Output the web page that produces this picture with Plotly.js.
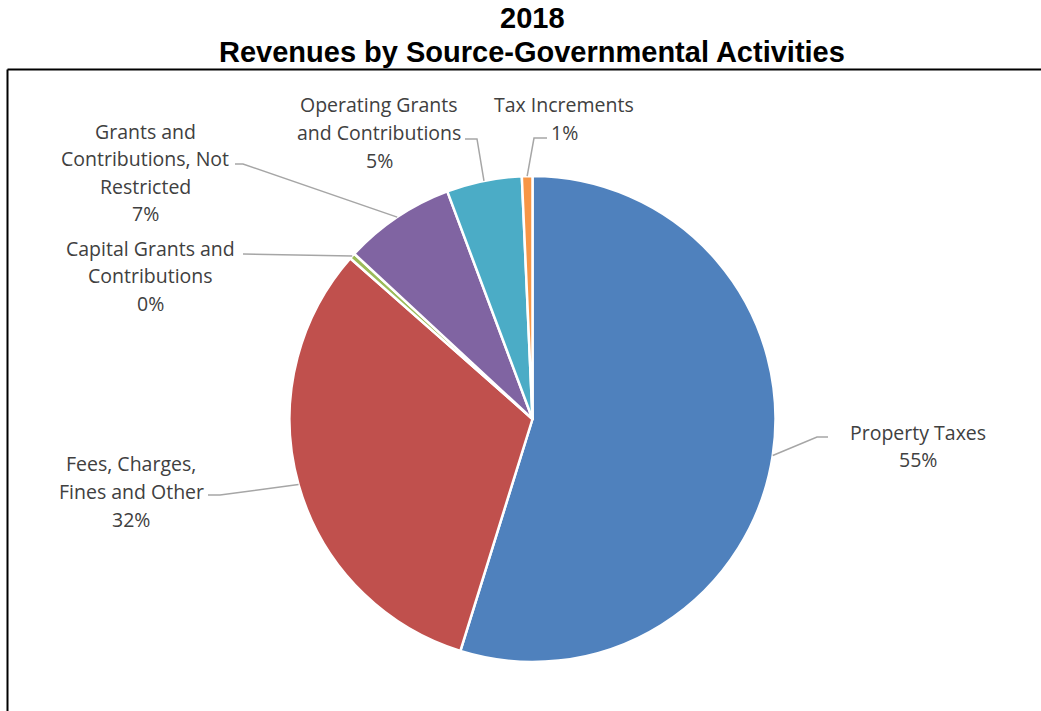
<!DOCTYPE html>
<html>
<head>
<meta charset="utf-8">
<script src="https://cdn.plot.ly/plotly-3.0.1.min.js"></script>
<style>html,body{margin:0;padding:0;background:#fff;}#chart{width:1041px;height:711px;}</style>
</head>
<body>
<div id="chart"></div>
<script>
// ---- data ----
const categories = ['Property Taxes', 'Fees, Charges, Fines and Other', 'Capital Grants and Contributions',
  'Grants and Contributions, Not Restricted', 'Operating Grants and Contributions', 'Tax Increments'];
const values = [54.8, 31.7, 0.4, 7.4, 5.0, 0.7];
const colors = ['#4F81BD', '#C0504D', '#9BBB59', '#8064A2', '#4BACC6', '#F79646'];
const titleLines = ['2018', 'Revenues by Source-Governmental Activities'];
const labelLines = [
  ['Property Taxes'],
  ['Fees, Charges,', 'Fines and Other'],
  ['Capital Grants and', 'Contributions'],
  ['Grants and', 'Contributions, Not', 'Restricted'],
  ['Operating Grants', 'and Contributions'],
  ['Tax Increments']
];

// ---- layout geometry (pixels) ----
const W = 1041, H = 711;
const cx = 532.5, cy = 419, R = 243;
const px = x => x / W;
const py = y => 1 - y / H;
const lineGap = 27.5;
// label block: center x, first line center y
const labelPos = [[918, 432], [131, 464], [150, 248], [145, 131], [379, 105], [564, 105]];
// leader line points after the slice-edge start point
const leaderPts = [
  [[817, 437], [828, 437]],
  [[220, 495], [208, 495]],
  [[243, 254]],
  [[243, 164], [235, 164]],
  [[477, 139], [465, 139]],
  [[534, 138], [547, 138]]
];
const titleY = [18, 52];

const total = values.reduce((a, b) => a + b, 0);
const annotations = [];
const shapes = [];
let cum = 0;
values.forEach((v, i) => {
  const a = (cum + v / 2) / total * 2 * Math.PI;
  cum += v;
  const sx = cx + R * Math.sin(a), sy = cy - R * Math.cos(a);
  let path = 'M ' + px(sx) + ',' + py(sy);
  leaderPts[i].forEach(p => { path += ' L ' + px(p[0]) + ',' + py(p[1]); });
  shapes.push({type: 'path', xref: 'paper', yref: 'paper', path: path,
    line: {color: '#A6A6A6', width: 1.5}});
  const lines = labelLines[i].concat([Math.round(v / total * 100) + '%']);
  lines.forEach((t, k) => {
    annotations.push({
      text: t, xref: 'paper', yref: 'paper', showarrow: false,
      x: px(labelPos[i][0]), y: py(labelPos[i][1] + k * lineGap),
      xanchor: 'center', yanchor: 'middle',
      font: {family: 'Open Sans, sans-serif', size: 19.5, color: '#404040'}
    });
  });
});

titleLines.forEach((t, k) => {
  annotations.push({
    text: '<b>' + t + '</b>', xref: 'paper', yref: 'paper', showarrow: false,
    x: px(532), y: py(titleY[k]), xanchor: 'center', yanchor: 'middle',
    font: {family: 'Liberation Sans, Arial, sans-serif', size: 29, color: '#000'}
  });
});

// frame
shapes.push({type: 'line', xref: 'paper', yref: 'paper', x0: px(7.5), x1: px(7.5), y0: 0, y1: py(69.5),
  line: {color: '#000', width: 2}});
shapes.push({type: 'line', xref: 'paper', yref: 'paper', x0: px(7.5), x1: 1, y0: py(69.5), y1: py(69.5),
  line: {color: '#000', width: 2}});

const trace = {
  type: 'pie',
  labels: categories,
  values: values,
  sort: false,
  direction: 'clockwise',
  rotation: 0,
  marker: {colors: colors, line: {color: '#FFFFFF', width: 2.5}},
  textinfo: 'none',
  hoverinfo: 'none',
  domain: {x: [px(cx - R), px(cx + R)], y: [py(cy + R), py(cy - R)]}
};

const layout = {
  width: W, height: H,
  margin: {l: 0, r: 0, t: 0, b: 0},
  paper_bgcolor: '#fff',
  showlegend: false,
  annotations: annotations,
  shapes: shapes
};

Plotly.newPlot('chart', [trace], layout, {displayModeBar: false, staticPlot: true});
</script>
</body>
</html>
